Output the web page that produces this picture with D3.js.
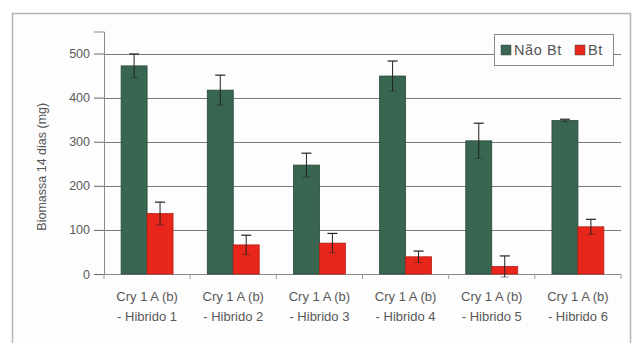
<!DOCTYPE html>
<html>
<head>
<meta charset="utf-8">
<script src="https://cdn.jsdelivr.net/npm/d3@7"></script>
<style>
  html, body { margin: 0; padding: 0; background: #ffffff; }
  svg { display: block; font-family: "Liberation Sans", Arial, sans-serif; }
</style>
</head>
<body>
<svg id="chart" width="632" height="343"></svg>
<script>
// Biomassa aos 14 dias por híbrido (mg)
const categories = ["Hibrido 1", "Hibrido 2", "Hibrido 3", "Hibrido 4", "Hibrido 5", "Hibrido 6"];
const labelTop = "Cry 1 A (b)";
const seriesNames = ["Não Bt", "Bt"];
const naoBt = [472, 417, 247, 449, 302, 348];
const naoBtErr = [27, 34, 27, 34, 40, 3];
const bt = [137, 66, 70, 39, 17, 107];
const btErr = [26, 22, 22, 13, 24, 17];
const yTicks = [0, 100, 200, 300, 400, 500];

const colors = ["#386650", "#e8261c"];

const svg = d3.select("#chart");
const W = 632, H = 343;
const m = { left: 104, right: 11, top: 31.5, bottom: 69 };

// outer frame
svg.append("rect").attr("x", 12.5).attr("y", 13.5).attr("width", 618).attr("height", 340)
  .attr("fill", "#fdfdfd").attr("stroke", "#b4b4b4").attr("stroke-width", 1.5);

const x = d3.scaleBand().domain(categories).range([m.left, W - m.right]).paddingInner(0).paddingOuter(0);
const inner = d3.scaleBand().domain(seriesNames).range([0, x.bandwidth()]).paddingInner(0).paddingOuter(0.66);
const y = d3.scaleLinear().domain([0, 550]).range([H - m.bottom, m.top]);

// gridlines
svg.append("g").selectAll("line").data(yTicks.filter(d => d > 0)).join("line")
  .attr("x1", m.left).attr("x2", W - m.right)
  .attr("y1", d => Math.round(y(d)) + 0.5).attr("y2", d => Math.round(y(d)) + 0.5)
  .attr("stroke", "#7a7a7a").attr("stroke-width", 1);

// y axis
const yAxis = svg.append("g").attr("transform", `translate(${m.left},0)`)
  .call(d3.axisLeft(y).tickValues(yTicks).tickSize(10).tickPadding(4));
yAxis.select(".domain").attr("stroke", "#8a8a8a");
yAxis.selectAll(".tick line").attr("stroke", "#6a6a6a");
yAxis.selectAll(".tick text").attr("fill", "#5a5a5a").attr("font-size", 12.5);

// x axis with tick marks between categories
const xg = svg.append("g").attr("transform", `translate(0,${y(0)})`);
xg.append("line").attr("x1", m.left).attr("x2", W - m.right).attr("y1", 0.5).attr("y2", 0.5)
  .attr("stroke", "#8a8a8a");
xg.selectAll(".sep").data(d3.range(categories.length + 1)).join("line")
  .attr("x1", i => m.left + i * x.step()).attr("x2", i => m.left + i * x.step())
  .attr("y1", 0).attr("y2", 5).attr("stroke", "#9a9a9a");

const labels = xg.selectAll(".lab").data(categories).join("text")
  .attr("text-anchor", "middle").attr("fill", "#585858").attr("font-size", 13);
labels.append("tspan").attr("x", d => x(d) + x.bandwidth() / 2).attr("y", 27).text(labelTop);
labels.append("tspan").attr("x", d => x(d) + x.bandwidth() / 2).attr("y", 47).text(d => "- " + d);

// y title
svg.append("text").attr("transform", `translate(46,${(y(0) + y(550)) / 2 + 14}) rotate(-90)`)
  .attr("text-anchor", "middle").attr("fill", "#555").attr("font-size", 12.5)
  .text("Biomassa 14 dias (mg)");

// bars
const data = categories.map((c, i) => ({
  c,
  vals: [
    { s: seriesNames[0], v: naoBt[i], e: naoBtErr[i] },
    { s: seriesNames[1], v: bt[i], e: btErr[i] }
  ]
}));

const groups = svg.append("g").selectAll("g").data(data).join("g")
  .attr("transform", d => `translate(${x(d.c)},0)`);

groups.selectAll("rect").data(d => d.vals).join("rect")
  .attr("x", d => inner(d.s)).attr("width", inner.bandwidth())
  .attr("y", d => y(d.v)).attr("height", d => y(0) - y(d.v))
  .attr("fill", (d, i) => colors[i])
  .attr("stroke", (d, i) => i === 0 ? "#264836" : "#b51d15").attr("stroke-width", 0.8);

// error bars
const eb = groups.selectAll(".eb").data(d => d.vals).join("g")
  .attr("transform", d => `translate(${inner(d.s) + inner.bandwidth() / 2},0)`);
eb.append("line").attr("x1", 0).attr("x2", 0)
  .attr("y1", d => y(d.v + d.e)).attr("y2", d => y(d.v - d.e))
  .attr("stroke", "#222").attr("stroke-width", 1);
eb.append("line").attr("x1", -5).attr("x2", 5)
  .attr("y1", d => y(d.v + d.e)).attr("y2", d => y(d.v + d.e))
  .attr("stroke", "#222").attr("stroke-width", 1.2);
eb.append("line").attr("x1", -4).attr("x2", 4)
  .attr("y1", d => y(d.v - d.e)).attr("y2", d => y(d.v - d.e))
  .attr("stroke", "#222").attr("stroke-width", 0.8).attr("opacity", 0.6);

// legend
const lg = svg.append("g");
lg.append("rect").attr("x", 494.5).attr("y", 34.5).attr("width", 119).attr("height", 31)
  .attr("fill", "#fdfdfd").attr("stroke", "#8a8a8a");
const items = [{ name: seriesNames[0], x: 501, tx: 514 }, { name: seriesNames[1], x: 575, tx: 588 }];
lg.selectAll(".sw").data(items).join("rect")
  .attr("x", d => d.x).attr("y", 45).attr("width", 10).attr("height", 10)
  .attr("fill", (d, i) => colors[i]).attr("stroke", "#444").attr("stroke-width", 0.5);
lg.selectAll(".lt").data(items).join("text")
  .attr("x", d => d.tx).attr("y", 55).attr("fill", "#555").attr("font-size", 14.5)
  .attr("letter-spacing", 0.6)
  .text(d => d.name);
</script>
</body>
</html>
